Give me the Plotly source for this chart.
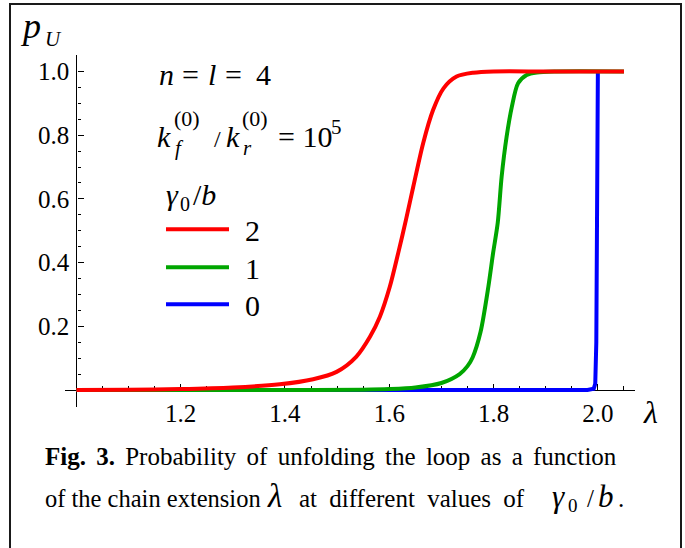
import plotly.graph_objects as go

# ---------------- data ----------------
lam_red = [1.00, 1.10, 1.20, 1.30, 1.39, 1.454, 1.499, 1.537, 1.563, 1.582, 1.601,
           1.617, 1.632, 1.646, 1.665, 1.684, 1.704, 1.729, 1.761, 1.80, 1.90, 2.05]
p_red = [0.000, 0.001, 0.003, 0.008, 0.018, 0.034, 0.057, 0.105, 0.167, 0.230, 0.324,
         0.429, 0.534, 0.638, 0.775, 0.879, 0.947, 0.984, 0.996, 1.000, 1.000, 1.000]

lam_green = [1.00, 1.40, 1.55, 1.60, 1.65, 1.70, 1.735, 1.75, 1.76, 1.775, 1.790, 1.799, 1.808,
             1.8155, 1.825, 1.835, 1.847, 1.8635, 1.883, 1.92, 2.05]
p_green = [0.000, 0.000, 0.001, 0.003, 0.008, 0.022, 0.050, 0.075, 0.103, 0.182, 0.324, 0.429, 0.525,
           0.670, 0.795, 0.889, 0.963, 0.989, 0.997, 1.000, 1.000]

lam_blue = [1.00, 1.98, 1.992, 1.995, 1.997, 1.998, 1.999, 2.000]
p_blue = [0.000, 0.000, 0.004, 0.020, 0.150, 0.500, 0.900, 1.000]

series_names = ["0", "1", "2"]
series_colors = ["#0000FF", "#00A600", "#FF0000"]

x_tickvals = [1.2, 1.4, 1.6, 1.8, 2.0]
x_ticktext = ["1.2", "1.4", "1.6", "1.8", "2.0"]
y_tickvals = [0.2, 0.4, 0.6, 0.8, 1.0]
y_ticktext = ["0.2", "0.4", "0.6", "0.8", "1.0"]

# ---------------- layout geometry ----------------
W, H = 685, 548
X_RANGE = [0.979, 2.071]
Y_RANGE = [-0.053, 1.053]
X_DOM = [65.4 / W, 634.9 / W]
Y_DOM = [1 - 406.9 / H, 1 - 54.6 / H]
X_AXIS_AT = 0.0   # x axis crosses y = 0
Y_AXIS_AT = 1.0   # y axis crosses x = 1

xpos = Y_DOM[0] + (X_AXIS_AT - Y_RANGE[0]) / (Y_RANGE[1] - Y_RANGE[0]) * (Y_DOM[1] - Y_DOM[0])
ypos = X_DOM[0] + (Y_AXIS_AT - X_RANGE[0]) / (X_RANGE[1] - X_RANGE[0]) * (X_DOM[1] - X_DOM[0])

SERIF = "Liberation Serif"

fig = go.Figure()
for lam, p, name, col, shape in [
    (lam_blue, p_blue, series_names[0], series_colors[0], "linear"),
    (lam_green, p_green, series_names[1], series_colors[1], "spline"),
    (lam_red, p_red, series_names[2], series_colors[2], "spline"),
]:
    fig.add_trace(go.Scatter(x=lam, y=p, mode="lines", name=name,
                             line=dict(color=col, width=4, shape=shape, smoothing=0.8),
                             showlegend=False, hoverinfo="skip"))

fig.update_layout(
    width=W, height=H,
    margin=dict(l=0, r=0, t=0, b=0),
    paper_bgcolor="white", plot_bgcolor="white",
    font=dict(family=SERIF, size=25, color="black"),
    xaxis=dict(range=X_RANGE, domain=X_DOM, anchor="free", position=xpos,
               showgrid=False, zeroline=False, showline=True, linecolor="black", linewidth=1.3,
               tickmode="array", tickvals=x_tickvals, ticktext=x_ticktext,
               ticks="inside", ticklen=6, tickwidth=1.2, tickcolor="black",
               minor=dict(dtick=0.05, tick0=1.0, ticks="inside", ticklen=3.5, tickwidth=1.1,
                          tickcolor="black", showgrid=False),
               tickfont=dict(family=SERIF, size=25, color="black"), layer="below traces",
               ticklabelstandoff=1),
    yaxis=dict(range=Y_RANGE, domain=Y_DOM, anchor="free", position=ypos,
               showgrid=False, zeroline=False, showline=True, linecolor="black", linewidth=1.3,
               tickmode="array", tickvals=y_tickvals, ticktext=y_ticktext,
               ticks="inside", ticklen=6, tickwidth=1.2, tickcolor="black",
               minor=dict(dtick=0.05, tick0=0.0, ticks="inside", ticklen=3.5, tickwidth=1.1,
                          tickcolor="black", showgrid=False),
               tickfont=dict(family=SERIF, size=25, color="black"), layer="below traces",
               ticklabelstandoff=2),
)

def px(x):
    return x / W

def py(y):
    return 1 - y / H

def txt(x, base, text, size, xanchor="left"):
    fig.add_annotation(x=px(x), y=py(base - 0.3375 * size), xref="paper", yref="paper",
                       text=text, showarrow=False, xanchor=xanchor, yanchor="middle",
                       font=dict(family=SERIF, size=size, color="black"))

# axis labels
txt(18, 38, "<i>p</i>", 36)
txt(43, 46, "<i>U</i>", 21)
txt(641, 423, "<i>λ</i>", 32)

# parameters
txt(157, 85, "<i>n</i>", 30)
txt(180, 85, "=", 30)
txt(206, 85, "<i>l</i>", 30)
txt(223, 85, "=", 30)
txt(254, 85, "4", 30)
txt(155, 147, "<i>k</i>", 30)
txt(172, 126, "(0)", 22)
txt(173, 155, "<i>f</i>", 21)
txt(212, 147, "/", 24)
txt(224, 147, "<i>k</i>", 30)
txt(240, 126, "(0)", 22)
txt(241, 155, "<i>r</i>", 21)
txt(276, 147, "= 10", 30)
txt(329, 134, "5", 21)

# legend
txt(164, 205, "<i>γ</i>", 30)
txt(178, 211, "0", 20)
txt(191, 205, "/<i>b</i>", 30)
legend_y = [229.3, 267.3, 304.3]
for yy, name, col in zip(legend_y, series_names[::-1], series_colors[::-1]):
    fig.add_shape(type="line", xref="paper", yref="paper", x0=px(166), x1=px(229),
                  y0=py(yy), y1=py(yy), line=dict(color=col, width=4))
    txt(243, yy + 11, name, 30)

# caption
txt(43, 465, "<span style='word-spacing:4px'><b>Fig. 3.</b> Probability of unfolding the loop as a function</span>", 25)
txt(43, 507, "of the chain extension", 24.5)
txt(265, 507, "<i>λ</i>", 33)
txt(297, 507, "<span style='word-spacing:6px'>at different values of</span>", 25)
txt(550, 507, "<i>γ</i>", 31)
txt(566, 512, "0", 19)
txt(585, 507, "/", 25)
txt(596, 507, "<i>b</i>", 31)
txt(616, 507, ".", 25)

# frame
fig.add_shape(type="rect", xref="paper", yref="paper", x0=px(10), x1=px(681),
              y0=py(560), y1=py(4), line=dict(color="#1a1a1a", width=2), layer="below")

fig.write_html("out.html", post_script="document.body.style.margin='0';",
               config={"displayModeBar": False})
